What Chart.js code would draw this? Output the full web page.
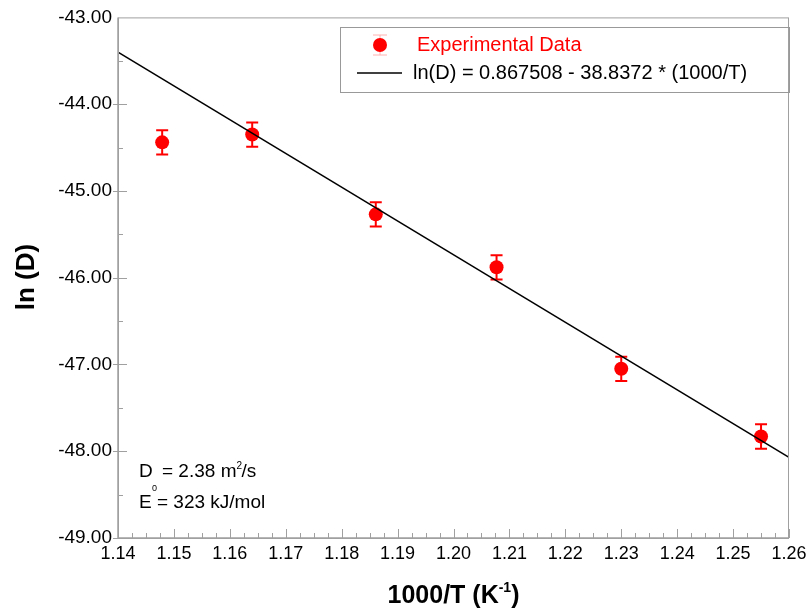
<!DOCTYPE html>
<html>
<head>
<meta charset="utf-8">
<script src="https://cdn.jsdelivr.net/npm/chart.js@4"></script>
<style>
  html, body { margin: 0; padding: 0; background: #fff; }
  #wrap { width: 812px; height: 609px; }
</style>
</head>
<body>
<div id="wrap"><canvas id="chart" width="812" height="609"></canvas></div>
<script>
// --- data ---
const invT = [1.1479, 1.1640, 1.1861, 1.2077, 1.2300, 1.2550];
const lnD = [-44.44, -44.35, -45.27, -45.88, -47.05, -47.83];
const lnDErr = [0.14, 0.14, 0.14, 0.14, 0.14, 0.14];
const fitX = [1.14, 1.26];
const fitY = [-43.40, -48.07];
const fitLabel = 'ln(D) = 0.867508 - 38.8372 * (1000/T)';
const dataLabel = 'Experimental Data';

const FONT = '"Liberation Sans", Arial, sans-serif';
const RED = '#ff0000';
const AXIS = '#a0a0a0';

// error bars, box, minor ticks, legend and text notes
const extras = {
    id: 'extras',
    beforeDatasetsDraw(chart) {
        const ctx = chart.ctx;
        const xs = chart.scales.x, ys = chart.scales.y;
        ctx.save();
        ctx.strokeStyle = RED;
        ctx.lineWidth = 2;
        invT.forEach((xv, i) => {
            const px = xs.getPixelForValue(xv);
            const t = ys.getPixelForValue(lnD[i] + lnDErr[i]);
            const b = ys.getPixelForValue(lnD[i] - lnDErr[i]);
            ctx.beginPath();
            ctx.moveTo(px, t); ctx.lineTo(px, b);
            ctx.moveTo(px - 6, t); ctx.lineTo(px + 6, t);
            ctx.moveTo(px - 6, b); ctx.lineTo(px + 6, b);
            ctx.stroke();
        });
        ctx.restore();
    },
    afterDraw(chart) {
        const ctx = chart.ctx;
        const a = chart.chartArea;
        const xs = chart.scales.x, ys = chart.scales.y;
        ctx.save();

        // frame
        ctx.strokeStyle = AXIS;
        ctx.lineWidth = 1;
        ctx.strokeRect(a.left + 0.5, a.top + 0.5, a.right - a.left - 1, a.bottom - a.top);
        ctx.lineWidth = 1.5;
        ctx.beginPath();
        ctx.moveTo(a.left, a.top); ctx.lineTo(a.left, a.bottom);
        ctx.lineTo(a.right, a.bottom);
        ctx.stroke();

        // y ticks: majors cross the axis, minors inside
        ctx.lineWidth = 1;
        ctx.beginPath();
        for (let v = -49; v <= -43.001; v += 0.5) {
            const py = Math.round(ys.getPixelForValue(v)) + 0.5;
            const major = Math.abs(v - Math.round(v)) < 1e-6;
            ctx.moveTo(major ? a.left - 5 : a.left, py);
            ctx.lineTo(a.left + (major ? 9 : 5), py);
        }
        // x ticks: inside, minor every 0.0025
        for (let k = 0; k <= 48; k++) {
            const px = Math.round(xs.getPixelForValue(1.14 + k * 0.0025)) + 0.5;
            const major = k % 4 === 0;
            ctx.moveTo(px, a.bottom);
            ctx.lineTo(px, a.bottom - (major ? 9 : 5));
        }
        ctx.stroke();

        // axis titles
        ctx.fillStyle = '#000';
        ctx.font = 'bold 26px ' + FONT;
        ctx.save();
        ctx.translate(27, 277);
        ctx.rotate(-Math.PI / 2);
        ctx.textAlign = 'center';
        ctx.textBaseline = 'middle';
        ctx.fillText('ln (D)', 0, 0);
        ctx.restore();

        ctx.textBaseline = 'alphabetic';
        ctx.textAlign = 'left';
        const main = '1000/T (K';
        ctx.font = 'bold 25px ' + FONT;
        const w1 = ctx.measureText(main).width;
        ctx.font = 'bold 14px ' + FONT;
        const w2 = ctx.measureText('-1').width;
        ctx.font = 'bold 25px ' + FONT;
        const w3 = ctx.measureText(')').width;
        let tx = (a.left + a.right) / 2 - (w1 + w2 + w3) / 2;
        ctx.fillText(main, tx, 603);
        ctx.font = 'bold 14px ' + FONT;
        ctx.fillText('-1', tx + w1, 592);
        ctx.font = 'bold 25px ' + FONT;
        ctx.fillText(')', tx + w1 + w2, 603);

        // legend
        ctx.strokeStyle = '#999';
        ctx.lineWidth = 1;
        ctx.strokeRect(340.5, 27.5, 449, 65);
        ctx.strokeStyle = '#ffb0b0';
        ctx.beginPath();
        ctx.moveTo(380, 35); ctx.lineTo(380, 55);
        ctx.moveTo(373, 35); ctx.lineTo(387, 35);
        ctx.moveTo(373, 55); ctx.lineTo(387, 55);
        ctx.stroke();
        ctx.fillStyle = RED;
        ctx.beginPath();
        ctx.arc(380, 45, 7, 0, Math.PI * 2);
        ctx.fill();
        ctx.strokeStyle = '#000';
        ctx.lineWidth = 1.5;
        ctx.beginPath();
        ctx.moveTo(357, 73); ctx.lineTo(402, 73);
        ctx.stroke();
        ctx.font = '20px ' + FONT;
        ctx.textBaseline = 'middle';
        ctx.fillStyle = RED;
        ctx.fillText(dataLabel, 417, 45);
        ctx.fillStyle = '#000';
        ctx.fillText(fitLabel, 413, 73);

        // notes
        ctx.font = '19px ' + FONT;
        ctx.fillText('D', 139, 472);
        const dW = ctx.measureText('D').width;
        ctx.font = '9px ' + FONT;
        ctx.fillText('0', 152, 489);
        ctx.font = '19px ' + FONT;
        const s1 = ' = 2.38 m';
        ctx.fillText(s1, 139 + dW + 4, 472);
        const sx = 139 + dW + 4 + ctx.measureText(s1).width;
        ctx.font = '10px ' + FONT;
        ctx.fillText('2', sx, 466);
        ctx.font = '19px ' + FONT;
        ctx.fillText('/s', sx + 5, 472);
        ctx.fillText('E = 323 kJ/mol', 139, 503);
        ctx.restore();
    }
};

const points = invT.map((x, i) => ({ x: x, y: lnD[i] }));
const fit = fitX.map((x, i) => ({ x: x, y: fitY[i] }));

new Chart(document.getElementById('chart'), {
    type: 'scatter',
    data: {
        datasets: [{
            label: fitLabel,
            data: fit,
            showLine: true,
            borderColor: '#000',
            borderWidth: 1.5,
            pointRadius: 0,
            fill: false
        }, {
            label: dataLabel,
            data: points,
            backgroundColor: RED,
            borderWidth: 0,
            pointRadius: 7,
            pointHoverRadius: 7
        }]
    },
    options: {
        responsive: false,
        animation: false,
        layout: { padding: { top: 15, right: 23, left: 0, bottom: 0 } },
        plugins: {
            legend: { display: false },
            tooltip: { enabled: false }
        },
        scales: {
            x: {
                type: 'linear',
                min: 1.14,
                max: 1.26,
                grid: { display: false, drawTicks: false },
                border: { display: false },
                afterFit: (s) => { s.height = 71; },
                ticks: {
                    stepSize: 0.01,
                    padding: 5,
                    color: '#000',
                    maxRotation: 0,
                    autoSkip: false,
                    font: { family: FONT, size: 18 },
                    callback: (v) => Number(v).toFixed(2)
                }
            },
            y: {
                min: -49,
                max: -43,
                grid: { display: false, drawTicks: false },
                border: { display: false },
                afterFit: (s) => { s.width = 118; },
                ticks: {
                    stepSize: 1,
                    padding: 6,
                    color: '#000',
                    font: { family: FONT, size: 19 },
                    callback: (v) => Number(v).toFixed(2)
                }
            }
        }
    },
    plugins: [extras]
});
</script>
</body>
</html>
